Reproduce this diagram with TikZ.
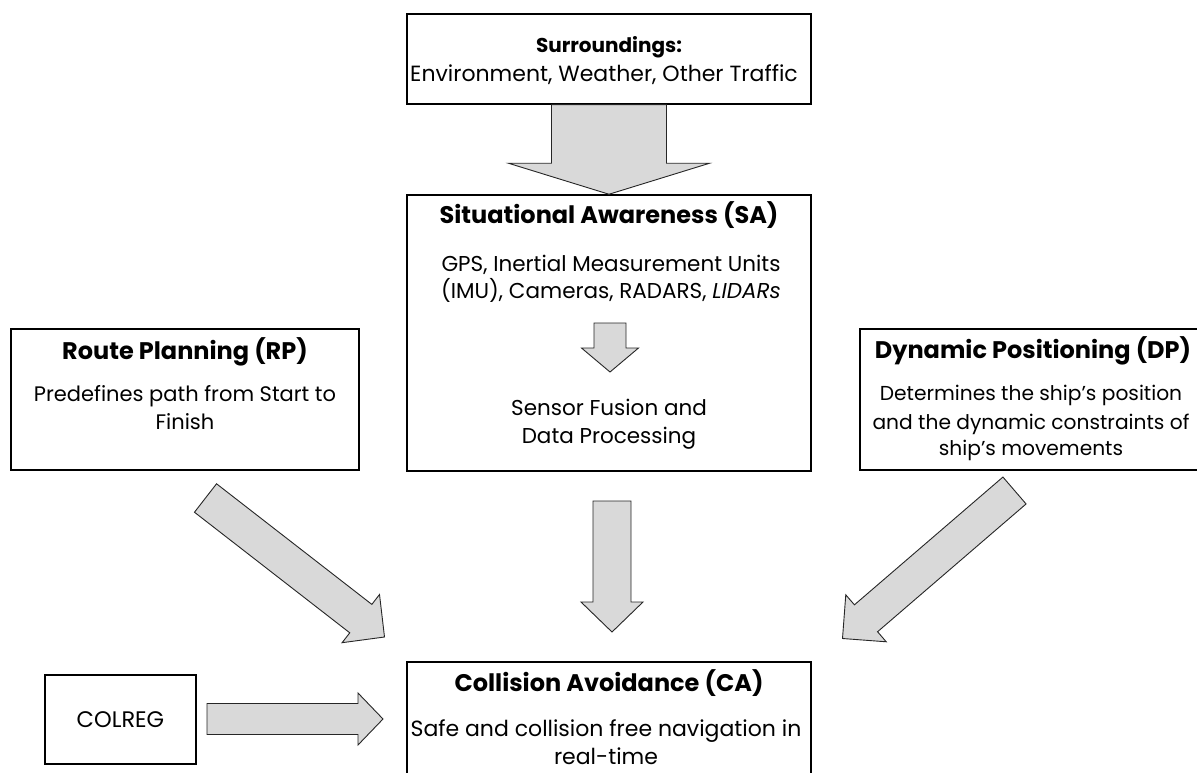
\documentclass[tikz,border=0pt]{standalone}
\usepackage{fontspec}
\setmainfont{Poppins}
\usetikzlibrary{calc}

\tikzset{
  box/.style={draw=black, line width=1.5pt, fill=white, inner sep=0pt},
  txt/.style={anchor=base, inner sep=0pt, font=\fontsize{21.5}{24}\selectfont},
  dptxt/.style={txt, font=\fontsize{20.2}{24}\selectfont},
  ttl/.style={anchor=base, inner sep=0pt, font=\fontsize{24}{26}\selectfont\bfseries},
  smallttl/.style={ttl, font=\fontsize{20}{22}\selectfont\bfseries},
  blockarrow/.style={draw=black!85, fill=black!15, line width=0.9pt, line join=miter},
}

% block arrow: #1 tail centre, #2 tip, #3 half shaft width, #4 half head width, #5 head length
\newcommand\blockarrow[5]{%
  \coordinate (bacentre) at ($(#2)!#5!(#1)$);
  \draw[blockarrow] ($(#1)!#3!90:(#2)$) -- ($(bacentre)!#3!90:(#2)$)
    -- ($(bacentre)!#4!90:(#2)$) -- (#2) -- ($(bacentre)!#4!-90:(#2)$)
    -- ($(bacentre)!#3!-90:(#2)$) -- ($(#1)!#3!-90:(#2)$) -- cycle;}

\begin{document}
\begin{tikzpicture}[x=1pt, y=-1pt]
\clip (0,0) rectangle (1197,772);
\fill[white] (0,0) rectangle (1197,772);

% boxes
\node[box, minimum width=404pt, minimum height=90pt]  (sur) at (609,59) {};
\node[box, minimum width=404pt, minimum height=276pt] (sa)  at (609,333) {};
\node[box, minimum width=348pt, minimum height=141pt] (rp)  at (185,399.5) {};
\node[box, minimum width=350pt, minimum height=141pt] (dp)  at (1035,399.5) {};
\node[box, minimum width=404pt, minimum height=128pt] (ca)  at (609,726) {};
\node[box, minimum width=151pt, minimum height=89pt]  (col) at (120.5,719.5) {};

% texts
\node[smallttl] (surT) at (609,52) {Surroundings:};
\node[txt, font=\fontsize{22}{24}\selectfont] (surA) at (604,81) {Environment, Weather, Other Traffic};

\node[ttl] (saT) at (609,223) {Situational Awareness (SA)};
\node[txt] (saA) at (611,271) {GPS, Inertial Measurement Units};
\node[txt] (saB) at (611,298) {(IMU), Cameras, RADARS, \textit{LIDARs}};
\node[txt] (saC) at (609,415) {Sensor Fusion and};
\node[txt] (saD) at (609,443) {Data Processing};

\node[ttl] (rpT) at (185,359) {Route Planning (RP)};
\node[txt, font=\fontsize{21}{24}\selectfont] (rpA) at (185,401) {Predefines path from Start to};
\node[txt, font=\fontsize{21}{24}\selectfont] (rpB) at (185,429) {Finish};

\node[ttl] (dpT) at (1033,358) {Dynamic Positioning (DP)};
\node[dptxt] (dpA) at (1031,400) {Determines the ship’s position};
\node[dptxt] (dpB) at (1031,429) {and the dynamic constraints of};
\node[dptxt] (dpC) at (1031,455) {ship’s movements};

\node[ttl] (caT) at (609,691) {Collision Avoidance (CA)};
\node[txt, font=\fontsize{22}{24}\selectfont] (caA) at (606,736) {Safe and collision free navigation in};
\node[txt, font=\fontsize{22}{24}\selectfont] (caB) at (606,764) {real-time};

\node[txt, font=\fontsize{22.5}{24}\selectfont] (colT) at (120.5,727) {COLREG};

% arrow end points
\coordinate (sfS) at (610,323);   \coordinate (sfT) at (610,372);
\coordinate (cS)  at (612,501);   \coordinate (cT)  at (612,632);
\coordinate (lS)  at (205.5,498); \coordinate (lT)  at (384.5,637);
\coordinate (rS)  at (1014.5,490.5); \coordinate (rT) at (842.5,638.5);
\coordinate (kS)  at (207,719);   \coordinate (kT)  at (383,719);

% block arrows
\blockarrow{sur.south}{sa.north}{57.5pt}{100.5pt}{31pt}
\blockarrow{sfS}{sfT}{16pt}{28.5pt}{24pt}
\blockarrow{cS}{cT}{19pt}{31pt}{30pt}
\blockarrow{lS}{lT}{18pt}{30.5pt}{30pt}
\blockarrow{rS}{rT}{17.75pt}{31pt}{31pt}
\blockarrow{kS}{kT}{15.5pt}{26pt}{25pt}
\end{tikzpicture}
\end{document}
